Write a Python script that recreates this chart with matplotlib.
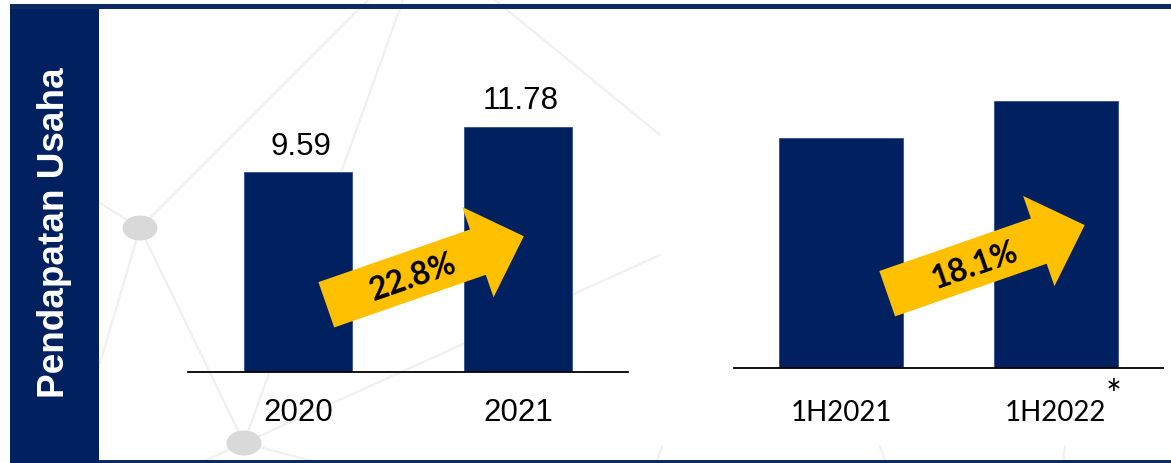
import matplotlib
matplotlib.use("Agg")
import matplotlib.pyplot as plt
from matplotlib.patches import Rectangle, Ellipse, FancyArrow
from matplotlib.lines import Line2D
from matplotlib.transforms import IdentityTransform

# ---- data ----
years = ["2020", "2021"]
year_values = [9.59, 11.78]
year_growth = "22.8%"

halves = ["1H2021", "1H2022"]
half_values = [5.92, 6.88]
half_growth = "18.1%"
half_note = "*"

side_title = "Pendapatan Usaha"

NAVY = "#002060"
YELLOW = "#FFC000"
W, H = 1171, 463

fig = plt.figure(figsize=(W / 100, H / 100), dpi=100)
fig.patch.set_facecolor("white")
ID = IdentityTransform()


def px(x, y_top):
    """image pixel (from top) -> display coords"""
    return x, H - y_top


# ---- decorative background network ----
bg_segments = [
    ((140, 228), (368, 0)),
    ((244, 443), (403, 0)),
    ((495, 0), (660, 135)),
    ((244, 443), (660, 255)),
    ((140, 228), (244, 443)),
    ((140, 228), (100, 363)),
    ((140, 228), (100, 203)),
    ((244, 443), (200, 463)),
    ((244, 443), (320, 463)),
    ((662, 447), (656, 463)),
    ((880, 447), (886, 463)),
    ((1065, 447), (1063, 463)),
]
for (x1, y1), (x2, y2) in bg_segments:
    a = px(x1, y1)
    b = px(x2, y2)
    fig.add_artist(Line2D([a[0], b[0]], [a[1], b[1]], color="#F0F0F0", lw=1.6,
                          transform=ID, zorder=-6))
for (cx, cy) in [(140, 228), (244, 443)]:
    c = px(cx, cy)
    fig.add_artist(Ellipse(c, 35, 25, color="#D9D9D9", transform=ID, zorder=-5, lw=0))

# ---- frame ----
fig.add_artist(Rectangle(px(10, 463), 89, 459, facecolor=NAVY, edgecolor="none",
                         transform=ID, zorder=-2))
fig.add_artist(Rectangle(px(10, 9), W - 10, 5, facecolor="#0E2A62", edgecolor="none",
                         transform=ID, zorder=-2))
fig.add_artist(Rectangle(px(99, 463), W - 99, 3, facecolor="#0E2A62", edgecolor="none",
                         transform=ID, zorder=-2))
tx, ty = px(55, 233)
fig.text(tx / W, ty / H, side_title, rotation=90, color="white", fontsize=26.6,
         fontweight="bold", family="Liberation Sans", ha="center", va="center", zorder=3)

# ---- left chart ----
ax1 = fig.add_axes([188 / W, (H - 371.7) / H, 440 / W, (371.7 - 20) / H])
ax1.bar(range(len(years)), year_values, width=0.49, color=NAVY, edgecolor="#2F4F8F",
        linewidth=0.6)
ax1.set_xlim(-0.5, 1.5)
ax1.set_ylim(0, 16.915)
for i, (lab, v) in enumerate(zip(years, year_values)):
    ax1.annotate(f"{v:.2f}", xy=(i, v), xytext=(2, 12.8), textcoords="offset points",
                 ha="center", va="baseline", fontsize=22.5, family="Liberation Sans")
    ax1.annotate(lab, xy=(i, 0), xytext=(0, -35.3), textcoords="offset points",
                 ha="center", va="baseline", fontsize=22.5, family="Liberation Sans")

# ---- right chart ----
ax2 = fig.add_axes([733.7 / W, (H - 368) / H, (1163 - 733.7) / W, (368 - 20) / H])
ax2.bar(range(len(halves)), half_values, width=0.578, color=NAVY, edgecolor="#2F4F8F",
        linewidth=0.6)
ax2.set_xlim(-0.5, 1.5)
ax2.set_ylim(0, 8.967)
for i, lab in enumerate(halves):
    ax2.annotate(lab, xy=(i, 0), xytext=(0, -38.2), textcoords="offset points",
                 ha="center", va="baseline", fontsize=20, family="Lato")
ax2.annotate(half_note, xy=(1, 0), xytext=(41.8, -29.0), textcoords="offset points",
             ha="center", va="baseline", fontsize=27, family="Lato")

for ax in (ax1, ax2):
    ax.set_facecolor("none")
    for s in ("top", "right", "left"):
        ax.spines[s].set_visible(False)
    ax.spines["bottom"].set_linewidth(1.3)
    ax.spines["bottom"].set_color("black")
    ax.set_xticks([])
    ax.set_yticks([])

# ---- growth arrows ----
arrows = [
    ((326.3, 304.8), (413.5, 277.5), year_growth),
    ((887.2, 293.7), (975.5, 265.0), half_growth),
]
for (tx0, ty0), (lx, ly), txt in arrows:
    x0, y0 = px(tx0, ty0)
    fig.add_artist(FancyArrow(x0, y0, 197.5, 68.6, width=48, head_width=95.5,
                              head_length=48.6, length_includes_head=True,
                              color=YELLOW, lw=0, transform=ID, zorder=5))
    lxd, lyd = px(lx, ly)
    fig.text(lxd / W, lyd / H, txt, rotation=19.2, rotation_mode="anchor",
             ha="center", va="center", fontsize=23, fontweight="bold",
             family="Lato", color="black", zorder=6)

fig.savefig("out.png", dpi=100)
